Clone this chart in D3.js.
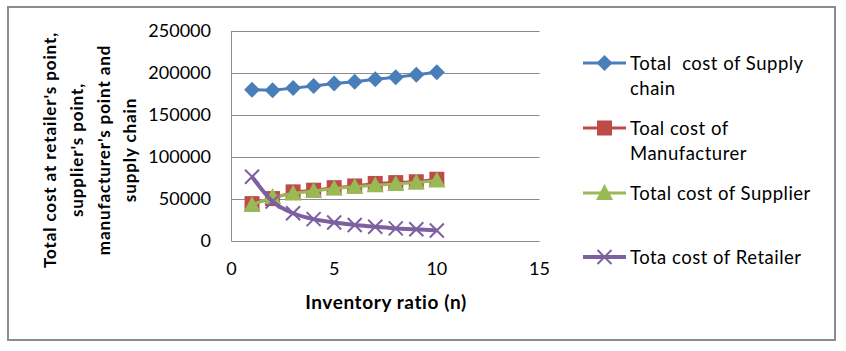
<!DOCTYPE html>
<html>
<head>
<meta charset="utf-8">
<script src="https://cdn.jsdelivr.net/npm/d3@7"></script>
<style>
  body { margin: 0; background: #fff; }
  text { font-family: Lato, "Open Sans", sans-serif; fill: #000; white-space: pre; }
</style>
</head>
<body>
<script>
var w = 846;
var h = 351;

// inventory ratio n
var ratios = [1, 2, 3, 4, 5, 6, 7, 8, 9, 10];
var supplyChain = [180000, 179500, 182000, 184500, 187500, 189500, 192500, 195000, 198000, 201000];
var manufacturer = [44500, 50500, 58500, 60500, 63500, 65500, 68500, 69500, 70500, 73500];
var supplier = [43000, 52500, 56500, 59500, 62500, 64500, 66500, 68000, 69500, 72000];
var retailer = [76500, 47000, 33000, 26000, 22000, 19000, 17000, 15000, 14000, 12500];

var xTicks = [0, 5, 10, 15];
var yTicks = [0, 50000, 100000, 150000, 200000, 250000];

var seriesNames = [
  ["Total  cost of Supply", "chain"],
  ["Toal cost of", "Manufacturer"],
  ["Total cost of Supplier"],
  ["Tota cost of Retailer"]
];
var yTitle = ["Total cost at retailer's point,", "supplier's point,", "manufacturer's point and", "supply chain"];
var xTitle = "Inventory ratio (n)";

var series = [
  {name: seriesNames[0], values: supplyChain, color: "#4A7EBB", marker: "diamond"},
  {name: seriesNames[1], values: manufacturer, color: "#BE4B48", marker: "square"},
  {name: seriesNames[2], values: supplier, color: "#98B954", marker: "triangle"},
  {name: seriesNames[3], values: retailer, color: "#7D60A0", marker: "cross", smooth: true}
];

var svg = d3.select("body").append("svg")
    .attr("width", w)
    .attr("height", h);

// outer frame
svg.append("rect")
    .attr("x", 8).attr("y", 7)
    .attr("width", 827).attr("height", 333)
    .attr("fill", "none")
    .attr("stroke", "#8c8c8c")
    .attr("stroke-width", 2);

var x = d3.scaleLinear().domain([0, 15]).range([231.5, 539.5]);
var y = d3.scaleLinear().domain([0, 250000]).range([241, 31]);

// gridlines
svg.append("g")
    .selectAll("line")
    .data(yTicks)
    .enter()
    .append("line")
    .attr("x1", x(0)).attr("x2", x(15))
    .attr("y1", function(d){ return Math.round(y(d)) + 0.5; })
    .attr("y2", function(d){ return Math.round(y(d)) + 0.5; })
    .attr("stroke", "#8c8c8c")
    .attr("stroke-width", 1);

// left axis line
svg.append("line")
    .attr("x1", x(0)).attr("x2", x(0))
    .attr("y1", y(250000)).attr("y2", y(0) + 0.5)
    .attr("stroke", "#8c8c8c");

// y tick labels
svg.append("g")
    .selectAll("text")
    .data(yTicks)
    .enter()
    .append("text")
    .attr("x", 211)
    .attr("y", function(d){ return y(d); })
    .attr("dy", "0.36em")
    .attr("text-anchor", "end")
    .style("font-size", "18px")
    .text(function(d){ return d; });

// x tick labels
svg.append("g")
    .selectAll("text")
    .data(xTicks)
    .enter()
    .append("text")
    .attr("x", function(d){ return x(d); })
    .attr("y", 269)
    .attr("dy", "0.36em")
    .attr("text-anchor", "middle")
    .style("font-size", "18px")
    .text(function(d){ return d; });

// axis titles
svg.append("text")
    .attr("x", 386).attr("y", 302)
    .attr("dy", "0.36em")
    .attr("text-anchor", "middle")
    .style("font-size", "19px")
    .style("font-weight", "bold")
    .style("letter-spacing", "0.6px")
    .text(xTitle);

var yt = svg.append("g").attr("transform", "translate(0,150) rotate(-90)");
yt.selectAll("text")
    .data(yTitle)
    .enter()
    .append("text")
    .attr("x", 0)
    .attr("y", function(d, i){ return 50 + i * 26.7; })
    .attr("dy", "0.36em")
    .attr("text-anchor", "middle")
    .style("font-size", "17px")
    .style("font-weight", "bold")
    .style("letter-spacing", "0.9px")
    .text(function(d){ return d; });

function drawMarker(g, type, color) {
  if (type == "diamond") {
    g.append("path").attr("d", "M0,-8L8,0L0,8L-8,0Z").attr("fill", color);
  } else if (type == "square") {
    g.append("rect").attr("x", -7.5).attr("y", -7.5).attr("width", 15).attr("height", 15).attr("fill", color);
  } else if (type == "triangle") {
    g.append("path").attr("d", "M0,-9L8.5,7L-8.5,7Z").attr("fill", color);
  } else {
    g.append("path").attr("d", "M-7,-7L7,7M-7,7L7,-7")
      .attr("stroke", color).attr("stroke-width", 2).attr("fill", "none");
  }
}

var plot = svg.append("g");
series.forEach(function(s) {
  var line = d3.line()
      .x(function(d, i){ return x(ratios[i]); })
      .y(function(d){ return y(d); })
      .curve(s.smooth ? d3.curveMonotoneX : d3.curveLinear);
  var g = plot.append("g");
  g.append("path")
      .datum(s.values)
      .attr("d", line)
      .attr("fill", "none")
      .attr("stroke", s.color)
      .attr("stroke-width", s.smooth ? 4 : 3);
  g.selectAll("g.pt")
      .data(s.values)
      .enter()
      .append("g")
      .attr("class", "pt")
      .attr("transform", function(d, i){ return "translate(" + x(ratios[i]) + "," + y(d) + ")"; })
      .each(function(){ drawMarker(d3.select(this), s.marker, s.color); });
});

// legend
var legendY = [63, 128, 193, 257];
var legend = svg.append("g");
series.forEach(function(s, i) {
  var g = legend.append("g").attr("transform", "translate(0," + legendY[i] + ")");
  g.append("line")
      .attr("x1", 583).attr("x2", 626)
      .attr("y1", 0).attr("y2", 0)
      .attr("stroke", s.color)
      .attr("stroke-width", s.smooth ? 4 : 3);
  var m = g.append("g").attr("transform", "translate(604.5,0)");
  drawMarker(m, s.marker, s.color);
  g.selectAll("text")
      .data(s.name)
      .enter()
      .append("text")
      .attr("x", 630)
      .attr("y", function(d, j){ return j * 25.5; })
      .attr("dy", "0.36em")
      .style("font-size", "18.5px")
      .style("letter-spacing", "0.5px")
      .text(function(d){ return d; });
});
</script>
</body>
</html>
